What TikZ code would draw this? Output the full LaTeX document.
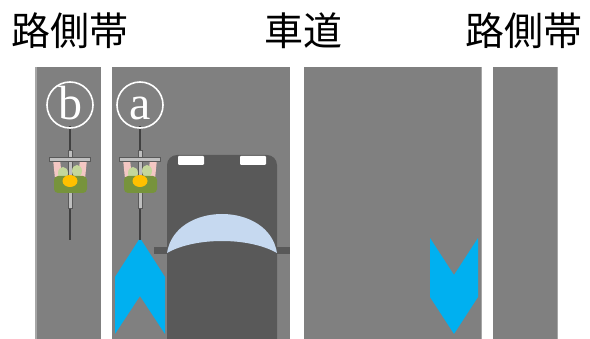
\documentclass[tikz,border=0pt]{standalone}
\usepackage{fontspec}
\newfontfamily\jpfont{Noto Sans CJK JP}
\newfontfamily\tagfont{Liberation Serif}
\usetikzlibrary{positioning}
\definecolor{road}{HTML}{808080}
\definecolor{roadedge}{HTML}{A6A6A6}
\definecolor{car}{HTML}{595959}
\definecolor{glass}{HTML}{C6D9F0}
\definecolor{guide}{HTML}{00B0F0}
\definecolor{skin}{HTML}{F4C7C3}
\definecolor{jacket}{HTML}{77933C}
\definecolor{leaf}{HTML}{C4D79B}
\definecolor{helmet}{HTML}{FFC000}
\definecolor{metal}{HTML}{BFBFBF}
\definecolor{rim}{HTML}{404040}
\tikzset{x=1pt, y=-1pt, inner sep=0pt, outer sep=0pt}
\tikzstyle{lane} = [fill=road, rectangle, minimum height=272pt, anchor=north west]
\tikzstyle{title} = [font=\jpfont\fontsize{39}{39}\selectfont]
\tikzstyle{tag} = [draw=white, line width=1.6pt, circle, minimum size=46pt, text=white, font=\tagfont\fontsize{48}{48}\selectfont, text height=33pt, text depth=3pt]
\tikzstyle{arrowmark} = [fill=guide]
% cyclist seen from above, origin on the wheel axis
\tikzset{cyclist/.pic={
    \draw [rim, line width=1.3pt] (0,126) -- (0,240);
    \draw [fill=metal, draw=car, line width=0.6pt] (-2,150) rectangle (2,208);
    \fill [skin, rounded corners=2pt] (-17,159) -- (-10,159) -- (-8,179) -- (-15,179) -- cycle;
    \fill [skin, rounded corners=2pt] (10,159) -- (17,159) -- (15,179) -- (8,179) -- cycle;
    \draw [fill=metal, draw=car, line width=0.6pt] (-21,157) rectangle (20,161);
    \fill [leaf] (-7,173) ellipse [x radius=5, y radius=6];
    \fill [leaf] (7,171) ellipse [x radius=5, y radius=6];
    \fill [jacket, rounded corners=4pt] (-16,176) rectangle (17,193);
    \fill [helmet] (0,181) ellipse [x radius=7.5, y radius=6];
}}

\begin{document}
\begin{tikzpicture}
    \useasboundingbox (0,0) rectangle (590,339);

    % road surface
    \node [lane, minimum width=66pt] (shoulder_l) at (35,67) {};
    \node [lane, minimum width=178pt] (lane_l) at (112,67) {};
    \node [lane, minimum width=178pt] (lane_r) at (304,67) {};
    \node [lane, minimum width=65pt] (shoulder_r) at (493,67) {};
    \draw [roadedge, line width=1.5pt] (shoulder_l.north west) ++(1,0) -- ++(0,272);
    \draw [roadedge, line width=1.2pt] (lane_r.north east) ++(-0.5,0) -- ++(0,272);
    \draw [roadedge, line width=1.2pt] (shoulder_r.north east) ++(-0.5,0) -- ++(0,272);

    % headings
    \node [title] (t_shoulder_l) at (70,31) {路側帯};
    \node [title] (t_road) at (303,31) {車道};
    \node [title] (t_shoulder_r) at (524,31) {路側帯};

    % direction marks
    \fill [arrowmark] (140,238) -- (165,277) -- (165,334) -- (140,296) -- (115,334) -- (115,277) -- cycle;
    \fill [arrowmark] (430,238) -- (454,275) -- (478,238) -- (478,297) -- (454,334) -- (430,297) -- cycle;

    % cyclists
    \pic (rider_b) at (70,0) {cyclist};
    \pic (rider_a) at (140,0) {cyclist};
    \node [tag] (tag_b) at (70,105) {b};
    \node [tag] (tag_a) at (140,105) {a};

    % car
    \fill [car] (154,247) rectangle (290,254);
    \fill [car, rounded corners=10pt] (167,345) -- (167,155) -- (277,155) -- (277,345);
    \fill [white, rounded corners=1pt] (178,156) rectangle (204,165);
    \fill [white, rounded corners=1pt] (240,156) rectangle (266,165);
    \fill [glass] (167,253) .. controls (175,201) and (269,201) .. (277,253)
        .. controls (249,237) and (195,237) .. (167,253) -- cycle;
\end{tikzpicture}
\end{document}
